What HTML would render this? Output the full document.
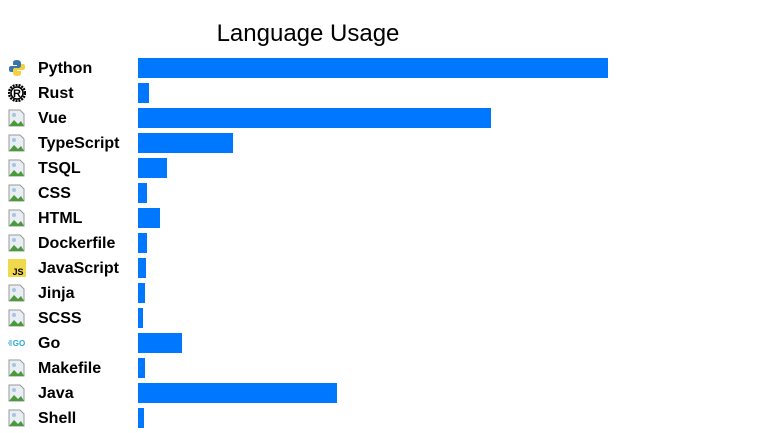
<!DOCTYPE html>
<html><head><meta charset="utf-8"><style>
body{margin:0;width:784px;height:433px;background:#fff;font-family:"Liberation Sans",sans-serif;overflow:hidden;position:relative}
.t{position:absolute;left:0;width:616px;text-align:center;top:20px;font-size:24px;color:#000}
.lab{position:absolute;left:38px;font-weight:bold;font-size:16px;color:#000;line-height:20px}
.ic{position:absolute;left:8px;width:18px;height:18px}
.bar{position:absolute;left:138px;height:20px;background:#0077ff}
</style></head><body>
<div class="t">Language Usage</div>
<div id="c"></div>
<script>
const languages=["Python","Rust","Vue","TypeScript","TSQL","CSS","HTML","Dockerfile","JavaScript","Jinja","SCSS","Go","Makefile","Java","Shell"];
const usage=[470,11,353,95,29,9,22,9,8,7,5,44,7,199,6];
const maxVal=470, plotW=470, x0=138, y0=58, pitch=25;
function xs(v){return v/maxVal*plotW;}
function ys(i){return y0+i*pitch;}
const icons={
Python:'<svg viewBox="0 0 18 18" width="18" height="18"><path d="M9 1c-4 0-4 2-4 3v2h4v1H3c-2 0-2 2-2 3s0 3 2 3h2v-2c0-1 1-2 2-2h4c1 0 2-1 2-2V4c0-1-1-3-4-3z" fill="#3b74a8"/><path d="M9 17c4 0 4-2 4-3v-2H9v-1h6c2 0 2-2 2-3s0-3-2-3h-2v2c0 1-1 2-2 2H7c-1 0-2 1-2 2v3c0 1 1 3 4 3z" fill="#f5cf3f"/></svg>',
Rust:'<svg viewBox="0 0 18 18" width="18" height="18"><circle cx="9" cy="9" r="8" fill="none" stroke="#000" stroke-width="2.4" stroke-dasharray="2 1"/><circle cx="9" cy="9" r="6" fill="#fff" stroke="#000" stroke-width="1.5"/><text x="9" y="13" font-size="11" font-weight="bold" text-anchor="middle" font-family="Liberation Sans">R</text></svg>',
JavaScript:'<svg viewBox="0 0 18 18" width="18" height="18"><rect width="18" height="18" fill="#f0d94d"/><text x="10" y="16" font-size="9" font-weight="bold" text-anchor="middle" font-family="Liberation Sans">JS</text></svg>',
Go:'<svg viewBox="0 0 18 18" width="18" height="18"><path d="M0 9h4M1 7h3M1 11h3" stroke="#29a9d8" stroke-width="1"/><text x="11" y="12" font-size="8" font-weight="bold" fill="#29a9d8" text-anchor="middle" font-family="Liberation Sans">GO</text></svg>'
};
const broken='<svg viewBox="0 0 18 18" width="18" height="18"><path d="M1 1h11l4 4v12H1z" fill="#e8eef4" stroke="#999"/><path d="M1 17l5-6 4 4 3-3 3 5z" fill="#4a9a3a"/><circle cx="6" cy="6" r="2" fill="#a8c4e0"/></svg>';
const c=document.getElementById('c');
languages.forEach((l,i)=>{
 const y=ys(i);
 const ic=document.createElement('div');ic.className='ic';ic.style.top=(y+1)+'px';ic.innerHTML=icons[l]||broken;
 
 
 c.appendChild(ic);
 const lb=document.createElement('div');lb.className='lab';lb.style.top=(y+1)+'px';lb.textContent=l;
 
 
 c.appendChild(lb);
 const b=document.createElement('div');b.className='bar';b.style.top=y+'px';b.style.width=xs(usage[i])+'px';
 
 
 c.appendChild(b);
});
</script>
</body></html>
